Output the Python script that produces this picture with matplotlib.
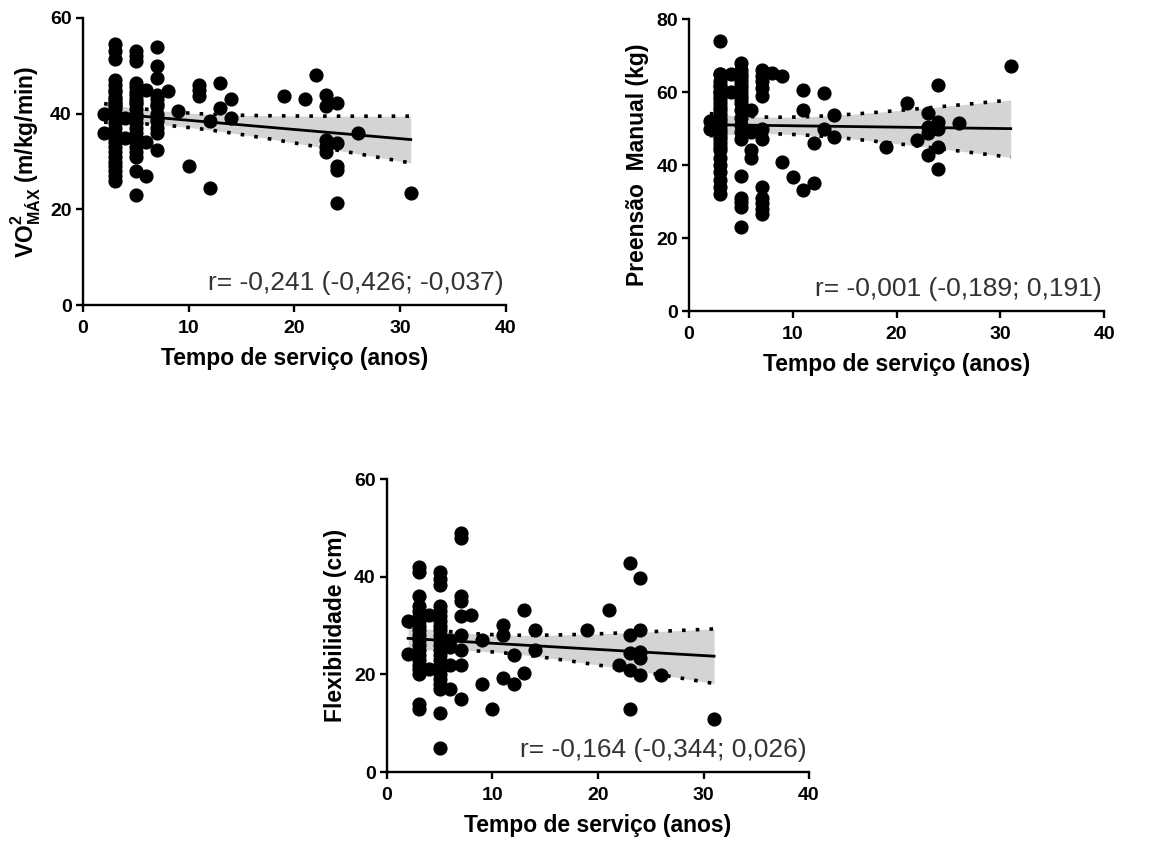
import numpy as np
import matplotlib.pyplot as plt

plt.rcParams['font.family'] = ['Liberation Sans', 'DejaVu Sans']
plt.rcParams['mathtext.fontset'] = 'custom'
plt.rcParams['mathtext.rm'] = 'Liberation Sans:bold'
plt.rcParams['mathtext.bf'] = 'Liberation Sans:bold'

# tempo de servico (anos) -> valores, por coluna
vo2_cols = {
    2: [40, 36],
    3: [54.5, 53, 51.5, 47, 46, 45, 44.5, 43.5, 43, 42.5, 42, 41.5, 41, 40,
        39, 38, 37, 36, 35, 34, 33, 32, 31, 30, 29, 28, 27, 26],
    4: [39, 35],
    5: [53, 52, 51, 46.5, 45.5, 44.5, 44, 43, 42.5, 42, 41, 40, 39, 38, 37,
        36, 35, 34, 33, 32, 31, 28, 23],
    6: [45, 34, 27],
    7: [54, 50, 47.5, 44, 43, 42, 41.5, 40, 39, 38.5, 37, 36, 32.5],
    8: [44.7],
    9: [40.5],
    10: [29],
    11: [46, 45, 43.6],
    12: [38.4, 24.4],
    13: [46.4, 41.2],
    14: [43, 39],
    19: [43.6],
    21: [43],
    22: [48.1],
    23: [44, 41.5, 34.5, 33, 32],
    24: [42.2, 33.8, 29, 28.3, 21.3],
    26: [35.9],
    31: [23.5],
}

preensao_cols = {
    2: [52, 50],
    3: [74, 65, 65, 63, 62, 61.5, 60, 60, 59, 58, 57, 56, 55, 54, 53, 52, 51,
        50, 49, 48, 47, 46, 45, 44, 42, 40, 38, 36, 34, 32],
    4: [65, 60],
    5: [68, 66, 65, 64, 63, 62, 61, 60, 59, 58, 57, 55, 53, 51, 49, 47, 37,
        31, 30, 28.5, 23],
    6: [55, 49, 44, 42],
    7: [66, 64.5, 63, 61, 59, 50, 47, 34, 31, 29.5, 28, 26.7],
    8: [65.2],
    9: [64.3, 40.9],
    10: [36.8],
    11: [60.6, 55.1, 33.1],
    12: [46, 35],
    13: [59.7, 50],
    14: [53.7, 47.8],
    19: [45],
    21: [57.1],
    22: [46.9],
    23: [54.2, 50.5, 48.7, 42.7],
    24: [62, 51.9, 50, 45, 38.8],
    26: [51.6],
    31: [67],
}

flex_cols = {
    2: [31, 24.1],
    3: [42, 41, 36, 34, 33, 32, 31, 30, 29, 28, 27, 26, 25, 24, 23, 22, 21,
        20, 14, 13],
    4: [32.2, 21.2],
    5: [41, 39.5, 38.3, 34, 33, 32, 31, 30, 29, 28, 27, 26, 25, 24, 23, 22,
        21, 20, 19, 18, 17, 12, 5],
    6: [27, 25.7, 22, 17],
    7: [49, 48, 36, 35, 32, 28, 25, 22, 15],
    8: [32.2],
    9: [27, 18.1],
    10: [13],
    11: [30.1, 28, 19.2],
    12: [23.9, 18.1],
    13: [33.2, 20.2],
    14: [29.1, 25],
    19: [29.1],
    21: [33.2],
    22: [21.9],
    23: [42.8, 28, 24.3, 20.9, 13],
    24: [39.7, 29.1, 24.6, 23.3, 19.8],
    26: [19.8],
    31: [10.9],
}

r_texts = [
    'r= -0,241 (-0,426; -0,037)',
    'r= -0,001 (-0,189; 0,191)',
    'r= -0,164 (-0,344; 0,026)',
]
y_labels = [
    r'VO$\mathrm{^{2}_{MÁX}}$ (m/kg/min)',
    'Preensão  Manual (kg)',
    'Flexibilidade (cm)',
]
y_maxes = [60, 80, 60]
x_label = 'Tempo de serviço (anos)'


def flatten(cols):
    xs, ys = [], []
    for k, vals in cols.items():
        xs += [k] * len(vals)
        ys += vals
    return np.array(xs, float), np.array(ys, float)


def draw_panel(ax, cols, ymax, ylabel, rtext):
    x, y = flatten(cols)
    n = len(x)
    slope, inter = np.polyfit(x, y, 1)
    resid = y - (slope * x + inter)
    s = np.sqrt(np.sum(resid ** 2) / (n - 2))
    xx = np.linspace(x.min(), x.max(), 200)
    yy = slope * xx + inter
    se = s * np.sqrt(1 / n + (xx - x.mean()) ** 2 / np.sum((x - x.mean()) ** 2))
    t = 1.98
    lo, hi = yy - t * se, yy + t * se

    ax.fill_between(xx, lo, hi, color='#d4d4d4', lw=0, zorder=1)
    ax.plot(xx, lo, color='black', lw=2.6, ls=(0, (1, 2.8)), zorder=2)
    ax.plot(xx, hi, color='black', lw=2.6, ls=(0, (1, 2.8)), zorder=2)
    ax.plot(x, y, 'o', color='black', ms=9.2, zorder=3, clip_on=False)
    ax.plot(xx, yy, color='black', lw=2, zorder=4)

    ax.set_xlim(0, 40)
    ax.set_ylim(0, ymax)
    ax.set_xticks([0, 10, 20, 30, 40])
    ax.set_yticks(np.arange(0, ymax + 1, 20))
    for sp in ['top', 'right']:
        ax.spines[sp].set_visible(False)
    for sp in ['left', 'bottom']:
        ax.spines[sp].set_linewidth(1.7)
    ax.tick_params(direction='out', length=5, width=1.7, labelsize=14, pad=3)
    ax.tick_params(axis='x', pad=6)
    for lab in ax.get_xticklabels() + ax.get_yticklabels():
        lab.set_fontweight('bold')
    ax.set_xlabel(x_label, fontsize=16.5, fontweight='bold', labelpad=7)
    ax.set_ylabel(ylabel, fontsize=16.5, fontweight='bold', labelpad=5)
    ax.text(0.995, 0.035, rtext, transform=ax.transAxes, ha='right', va='bottom',
            fontsize=19, color='#333333')


fig = plt.figure(figsize=(11.49, 8.41), dpi=100)
ax1 = fig.add_axes([0.0722, 0.6373, 0.3681, 0.3413])
ax2 = fig.add_axes([0.5997, 0.6302, 0.3612, 0.3472])
ax3 = fig.add_axes([0.3368, 0.0820, 0.3673, 0.3484])

draw_panel(ax1, vo2_cols, y_maxes[0], y_labels[0], r_texts[0])
draw_panel(ax2, preensao_cols, y_maxes[1], y_labels[1], r_texts[1])
draw_panel(ax3, flex_cols, y_maxes[2], y_labels[2], r_texts[2])

fig.savefig('out.png', dpi=100)
